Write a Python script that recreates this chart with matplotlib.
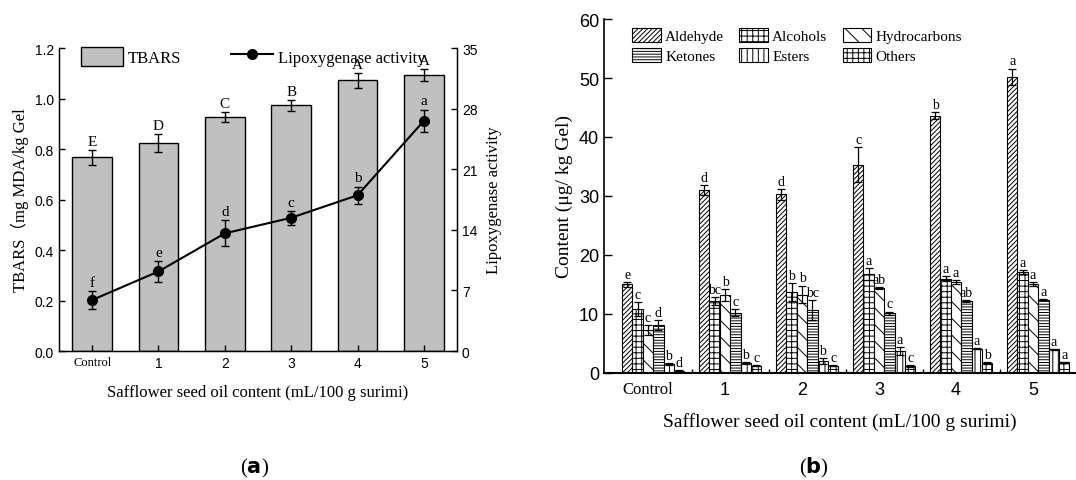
import numpy as np
import matplotlib
matplotlib.use("Agg")
from matplotlib import pyplot as plt
import matplotlib.patches as mpatches
from matplotlib.lines import Line2D

plt.rcParams['font.family'] = ['Liberation Serif', 'Noto Sans CJK SC', 'DejaVu Sans']
plt.rcParams['hatch.linewidth'] = 0.7
SANS = 'Liberation Sans'

# ---- panel (a) data ----
groups = ["Control", "1", "2", "3", "4", "5"]
tbars = [0.768, 0.824, 0.927, 0.974, 1.073, 1.093]
tbars_err = [0.030, 0.037, 0.020, 0.022, 0.030, 0.025]
tbars_letters = ["E", "D", "C", "B", "A", "A"]
lox = [5.9, 9.2, 13.6, 15.4, 18.0, 26.6]
lox_err = [1.0, 1.2, 1.5, 0.8, 1.0, 1.3]
lox_letters = ["f", "e", "d", "c", "b", "a"]

# ---- panel (b) data ----
compounds = ["Aldehyde", "Alcohols", "Hydrocarbons", "Ketones", "Esters", "Others"]
aldehyde = [15.0, 31.0, 30.3, 35.3, 43.6, 50.2]
alcohols = [10.8, 12.2, 13.7, 16.8, 16.0, 17.1]
hydrocarbons = [7.3, 13.2, 13.3, 14.4, 15.4, 15.1]
ketones = [8.1, 10.2, 10.7, 10.1, 12.2, 12.4]
esters = [1.5, 1.7, 2.0, 3.7, 4.1, 4.0]
others = [0.4, 1.2, 1.2, 1.2, 1.7, 1.8]
aldehyde_err = [0.4, 0.8, 0.9, 3.0, 0.6, 1.4]
alcohols_err = [1.2, 0.7, 1.5, 1.0, 0.4, 0.3]
hydrocarbons_err = [0.8, 1.0, 1.5, 0.2, 0.3, 0.3]
ketones_err = [0.8, 0.6, 1.7, 0.3, 0.1, 0.1]
esters_err = [0.2, 0.1, 0.5, 0.7, 0.1, 0.1]
others_err = [0.1, 0.1, 0.1, 0.2, 0.1, 0.1]
letters_b = [
    ["e", "d", "d", "c", "b", "a"],
    ["c", "bc", "b", "a", "a", "a"],
    ["c", "b", "b", "ab", "a", "a"],
    ["d", "c", "bc", "c", "ab", "a"],
    ["b", "b", "b", "a", "a", "a"],
    ["d", "c", "c", "c", "b", "a"],
]
hatches = ["///////", "+++", "\\\\", "------", "|||", "+++"]

fig = plt.figure(figsize=(10.76, 4.81), dpi=100)

# ================= (a) =================
ax = fig.add_axes([0.0548, 0.268, 0.370, 0.630])
x = np.arange(len(groups))
ax.bar(x, tbars, width=0.6, color="#c0c0c0", edgecolor="black", linewidth=1.0,
       yerr=tbars_err, capsize=3, error_kw=dict(elinewidth=1, capthick=1))
for xi, v, e, t in zip(x, tbars, tbars_err, tbars_letters):
    ax.text(xi, v + e + 0.008, t, ha="center", va="bottom", fontsize=11)
ax.set_xlim(-0.5, 5.5)
ax.set_ylim(0, 1.2)
ax.set_yticks(np.arange(0, 1.21, 0.2))
ax.set_yticklabels([f"{v:.1f}" for v in np.arange(0, 1.21, 0.2)], family=SANS, fontsize=10)
ax.set_xticks(x)
ax.set_xticklabels(groups, fontsize=10)
for lab in ax.get_xticklabels()[1:]:
    lab.set_family(SANS)
ax.get_xticklabels()[0].set_fontsize(9)
ax.tick_params(direction="in", length=4, width=1)
ax.spines["top"].set_visible(False)
for s in ["left", "bottom", "right"]:
    ax.spines[s].set_linewidth(1.0)
ax.set_ylabel("TBARS（mg MDA/kg Gel", fontsize=12, labelpad=4)
ax.set_xlabel("Safflower seed oil content (mL/100 g surimi)", fontsize=12, labelpad=10)

ax2 = ax.twinx()
ax2.errorbar(x, lox, yerr=lox_err, color="black", marker="o", markersize=7,
             linewidth=1.5, capsize=3, elinewidth=1, capthick=1)
for xi, v, e, t in zip(x, lox, lox_err, lox_letters):
    ax2.text(xi, v + e + 0.25, t, ha="center", va="bottom", fontsize=11)
ax2.set_ylim(0, 35)
ax2.set_yticks(np.arange(0, 36, 7))
ax2.set_yticklabels([str(v) for v in range(0, 36, 7)], family=SANS, fontsize=10)
ax2.tick_params(direction="in", length=4, width=1)
ax2.spines["top"].set_visible(False)
ax2.set_ylabel("Lipoxygenase activity", fontsize=12, labelpad=6)

h1 = mpatches.Patch(facecolor="#c0c0c0", edgecolor="black", linewidth=1)
h2 = Line2D([0], [0], color="black", marker="o", markersize=7, linewidth=1.5)
ax2.legend([h1, h2], ["TBARS", "Lipoxygenase activity"], ncol=2, frameon=False,
           loc="upper left", bbox_to_anchor=(0.055, 1.005), fontsize=12,
           handlelength=2.5, handleheight=1.4, columnspacing=3.0, handletextpad=0.3,
           borderpad=0, borderaxespad=0)

# ================= (b) =================
bx = fig.add_axes([0.5613, 0.2225, 0.4387, 0.7359])
w = 0.135
series = [aldehyde, alcohols, hydrocarbons, ketones, esters, others]
errs = [aldehyde_err, alcohols_err, hydrocarbons_err, ketones_err, esters_err, others_err]
handles = []
for i, (name, vals, err, hat) in enumerate(zip(compounds, series, errs, hatches)):
    pos = x + (i - 2.5) * w
    b = bx.bar(pos, vals, width=w, color="white", edgecolor="black", linewidth=0.8,
               hatch=hat, yerr=err, capsize=3, error_kw=dict(elinewidth=0.9, capthick=0.9),
               label=name)
    handles.append(b)
    for p, v, e, t in zip(pos, vals, err, letters_b[i]):
        bx.text(p, v + e + 0.2, t, ha="center", va="bottom", fontsize=10)
bx.set_xlim(-0.64, 5.49)
bx.set_ylim(0, 60)
bx.set_yticks(np.arange(0, 61, 10))
bx.set_yticklabels([str(v) for v in range(0, 61, 10)], family=SANS, fontsize=13)
bx.set_xticks(x - 0.07)
bx.set_xticklabels(groups, fontsize=13)
for lab in bx.get_xticklabels()[1:]:
    lab.set_family(SANS)
bx.get_xticklabels()[0].set_fontsize(12)
bx.set_xticks(x[:-1] + 0.5, minor=True)
bx.tick_params(axis="x", which="major", length=0, pad=6)
bx.tick_params(axis="x", which="minor", direction="in", length=3, width=1)
bx.tick_params(axis="y", direction="in", length=6, width=1)
bx.spines["top"].set_visible(False)
bx.spines["right"].set_visible(False)
bx.spines["left"].set_linewidth(1.2)
bx.spines["bottom"].set_linewidth(1.5)
bx.set_ylabel("Content (μg/ kg Gel)", fontsize=14, labelpad=4)
bx.set_xlabel("Safflower seed oil content (mL/100 g surimi)", fontsize=14, labelpad=10)
order = [0, 3, 1, 4, 2, 5]
bx.legend([handles[k] for k in order], [compounds[k] for k in order], ncol=3,
          frameon=False, loc="upper left", bbox_to_anchor=(0.06, 0.975), fontsize=11,
          handlelength=1.85, handleheight=1.0, columnspacing=1.0, handletextpad=0.3,
          labelspacing=0.35, borderpad=0, borderaxespad=0)

fig.text(0.237, 0.027, r"($\mathbf{a}$)", ha="center", va="center", fontsize=15)
fig.text(0.756, 0.027, r"($\mathbf{b}$)", ha="center", va="center", fontsize=15)

fig.savefig("out.png", dpi=100)
